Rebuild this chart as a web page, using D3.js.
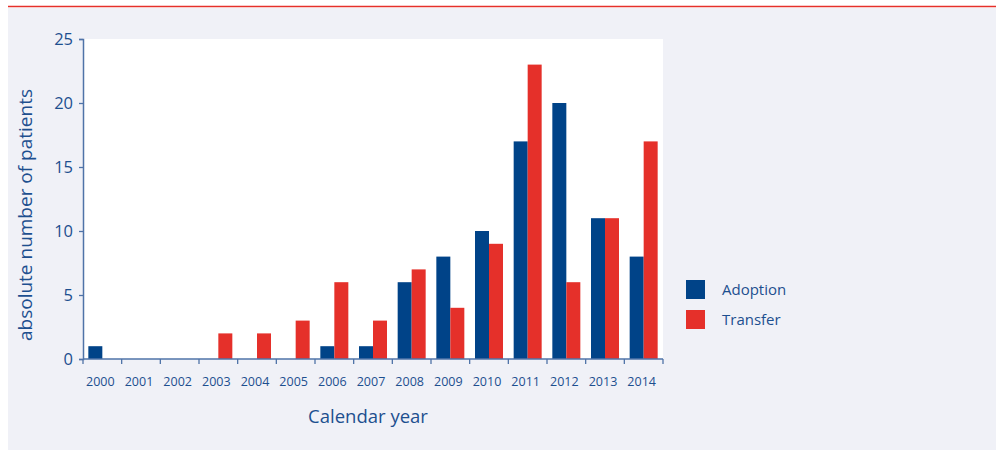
<!DOCTYPE html>
<html>
<head>
<meta charset="utf-8">
<script src="https://cdn.jsdelivr.net/npm/d3@7/dist/d3.min.js"></script>
<style>
  html, body { margin: 0; padding: 0; background: #ffffff; }
  svg { display: block; }
  text { font-family: "Open Sans", "Noto Sans", sans-serif; fill: #1d4f8f; }
</style>
</head>
<body>
<svg id="chart" width="996" height="450"></svg>
<script>
// Patients per calendar year, by type
const years = ["2000","2001","2002","2003","2004","2005","2006","2007","2008","2009","2010","2011","2012","2013","2014"];
const adoption = [1, 0, 0, 0, 0, 0, 1, 1, 6, 8, 10, 17, 20, 11, 8];
const transfer = [0, 0, 0, 2, 2, 3, 6, 3, 7, 4, 9, 23, 6, 11, 17];
const seriesNames = ["Adoption", "Transfer"];
const seriesColors = ["#004388", "#e5302a"];
const yTicks = [0, 5, 10, 15, 20, 25];

const svg = d3.select("#chart");
const W = 996, H = 450;

// panel background and top rule
svg.append("rect").attr("x", 8).attr("y", 8).attr("width", W - 8).attr("height", H - 8).attr("fill", "#f0f1f7");
svg.append("line").attr("x1", 8).attr("x2", W).attr("y1", 6.5).attr("y2", 6.5)
  .attr("stroke", "#e5302a").attr("stroke-width", 1.3);

const plot = { left: 83, right: 663, top: 39, bottom: 359 };

svg.append("rect").attr("x", plot.left).attr("y", plot.top)
  .attr("width", plot.right - plot.left).attr("height", plot.bottom - plot.top).attr("fill", "#ffffff");

const x = d3.scaleBand().domain(years).range([plot.left, plot.right])
  .paddingInner(0.276).paddingOuter(0.138);
const xs = d3.scaleBand().domain(seriesNames).range([0, x.bandwidth()]);
const y = d3.scaleLinear().domain([0, 25]).range([plot.bottom, plot.top]);

const rows = years.map((yr, i) => ({ year: yr, values: [adoption[i], transfer[i]] }));

const g = svg.append("g");
g.selectAll("g.year").data(rows).enter().append("g")
  .attr("transform", d => `translate(${x(d.year)},0)`)
  .selectAll("rect").data(d => d.values.map((v, k) => ({ v, k })))
  .enter().append("rect")
  .attr("x", d => xs(seriesNames[d.k]))
  .attr("width", xs.bandwidth())
  .attr("y", d => y(d.v))
  .attr("height", d => y(0) - y(d.v))
  .attr("fill", d => seriesColors[d.k]);

const axisColor = "#4f73a8";

// y axis
const yAxis = svg.append("g").attr("transform", `translate(${plot.left},0)`)
  .call(d3.axisLeft(y).tickValues(yTicks).tickSize(4).tickPadding(6));
yAxis.select(".domain").attr("stroke", axisColor).attr("stroke-width", 1.5);
yAxis.selectAll(".tick line").attr("stroke", axisColor).attr("stroke-width", 1.3);
yAxis.selectAll(".tick text").attr("font-size", 16.5).attr("fill", "#1d4f8f")
  .style("font-family", "'Open Sans', sans-serif");

// x axis: ticks at band boundaries, labels at band centres
const xAxisG = svg.append("g").attr("transform", `translate(0,${plot.bottom})`);
xAxisG.append("line").attr("x1", plot.left).attr("x2", plot.right).attr("y1", 0).attr("y2", 0)
  .attr("stroke", axisColor).attr("stroke-width", 1.5);
const step = x.step();
const bounds = d3.range(years.length + 1).map(i => plot.left + i * step);
xAxisG.selectAll("line.tk").data(bounds).enter().append("line").attr("class", "tk")
  .attr("x1", d => d).attr("x2", d => d).attr("y1", 0).attr("y2", 5)
  .attr("stroke", axisColor).attr("stroke-width", 1.3);
xAxisG.selectAll("text").data(years).enter().append("text")
  .attr("x", d => x(d) + x.bandwidth() / 2 - 2)
  .attr("y", 27)
  .attr("text-anchor", "middle")
  .attr("font-size", 12.5)
  .text(d => d);

// axis titles
svg.append("text").attr("x", 368).attr("y", 423).attr("text-anchor", "middle")
  .attr("font-size", 18.5).text("Calendar year");
svg.append("text").attr("transform", "translate(32,215) rotate(-90)")
  .attr("text-anchor", "middle").attr("font-size", 19).text("absolute number of patients");

// legend
const legend = svg.append("g").attr("transform", "translate(686,280)");
seriesNames.forEach((name, i) => {
  legend.append("rect").attr("x", 0).attr("y", i * 30).attr("width", 19).attr("height", 19)
    .attr("fill", seriesColors[i]);
  legend.append("text").attr("x", 36).attr("y", i * 30 + 15).attr("font-size", 15).text(name);
});
</script>
</body>
</html>
